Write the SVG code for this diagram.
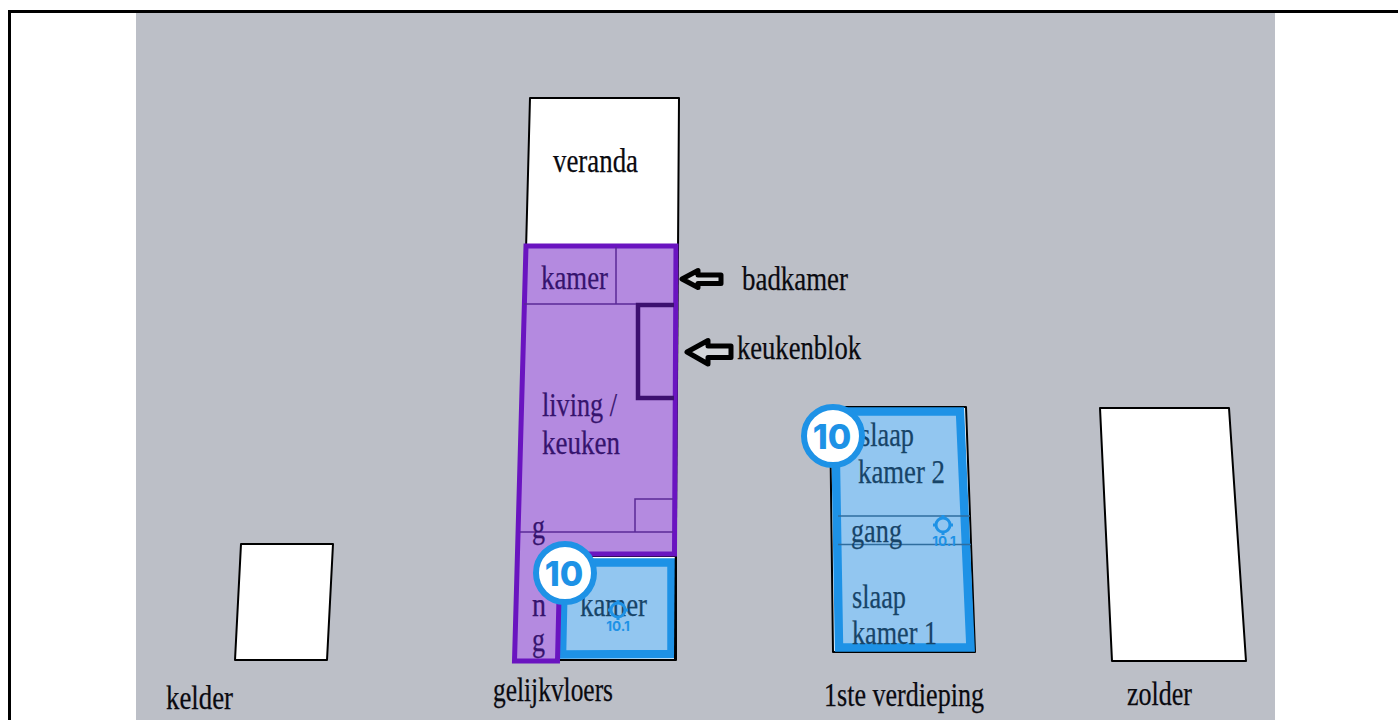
<svg xmlns="http://www.w3.org/2000/svg" width="1399" height="720" viewBox="0 0 1399 720">
<style>
.room{fill:#fff;stroke:#000;stroke-width:2;stroke-linejoin:round}
.t{font-family:"Liberation Serif",serif;font-size:33px;fill:#0a0a10;stroke:#0a0a10;stroke-width:.25}
.p{fill:#36146e;stroke:#36146e}
.b{fill:#174468;stroke:#174468}
.pur{fill:#b48ae0;stroke:#6a14c0;stroke-width:5;stroke-linejoin:miter}
.in{fill:none;stroke:#5a2a96;stroke-width:1.5}
.bl{fill:#92c6f0;stroke:#1e92e6;stroke-width:8.500;stroke-linejoin:miter}
.ln{fill:none;stroke:#2f6d9e;stroke-width:1.5}
.arrow{fill:#d4d6da;stroke:#000;stroke-width:5;stroke-linejoin:round}
.badge{fill:#fff;stroke:#1e92e6;stroke-width:6}
.bt{font-family:Inter,"Liberation Sans",sans-serif;font-weight:800;font-size:34px;fill:#1e92e6;text-anchor:middle}
.st{font-family:Inter,"Liberation Sans",sans-serif;font-weight:700;font-size:13.500px;fill:#1e92e6;text-anchor:middle}
.tg{fill:none;stroke:#1e92e6;stroke-width:3}
</style>
<rect x="0" y="0" width="1399" height="720" fill="#fff"/>
<rect x="136" y="12" width="1139" height="708" fill="#bcbfc7"/>
<path d="M9.500 720V11.500H1398" fill="none" stroke="#000" stroke-width="3"/>
<g id="kelder">
<path class="room" d="M241 544H333L327 660H235Z"/>
<text class="t" x="166" y="709" textLength="67" lengthAdjust="spacingAndGlyphs">kelder</text>
</g>
<g id="veranda">
<path class="room" d="M530 98H679L678 250H526Z"/>
<text class="t" x="553" y="172" textLength="85" lengthAdjust="spacingAndGlyphs">veranda</text>
</g>
<g id="kamer-beneden">
<path class="room" d="M558 556H676V660H558Z"/>
<path class="bl" d="M564 562.500H671.500V654L562 654.500Z"/>
<text class="t b" x="580" y="616" textLength="67" lengthAdjust="spacingAndGlyphs">kamer</text>
</g>
<g id="gelijkvloers">
<path d="M678 246L675 660" fill="none" stroke="#000" stroke-width="2"/>
<path class="pur" d="M526 246H676L674.500 554H560L557.500 661L514.500 661Z"/>
<path d="M674 305H638V398H674" fill="none" stroke="#3c1070" stroke-width="4.500"/>
<path class="in" d="M524 304H636M616 247V304M520 532H673M635 532V499H673"/>
<text class="t p" x="541" y="289" textLength="67" lengthAdjust="spacingAndGlyphs">kamer</text>
<text class="t p" x="542" y="416" textLength="75" lengthAdjust="spacingAndGlyphs">living /</text>
<text class="t p" x="542" y="454" textLength="78" lengthAdjust="spacingAndGlyphs">keuken</text>
<text class="t p" x="532" y="538" textLength="13" lengthAdjust="spacingAndGlyphs">g</text>
<text class="t p" x="532" y="616" textLength="14" lengthAdjust="spacingAndGlyphs">n</text>
<text class="t p" x="532" y="651" textLength="13" lengthAdjust="spacingAndGlyphs">g</text>
<text class="t" x="493" y="701" textLength="120" lengthAdjust="spacingAndGlyphs">gelijkvloers</text>
</g>
<g id="badkamer">
<text class="t" x="742" y="290" textLength="106" lengthAdjust="spacingAndGlyphs">badkamer</text>
</g>
<g id="keukenblok">
<text class="t" x="737" y="359" textLength="124" lengthAdjust="spacingAndGlyphs">keukenblok</text>
</g>
<g id="verdieping">
<path class="room" d="M830 407H966L975 652H833Z"/>
<path class="bl" d="M835 411.500H960L970.500 647.500H839Z"/>
<path class="ln" d="M838 516H970M838 544.500H971"/>
<text class="t b" x="860" y="446" textLength="54" lengthAdjust="spacingAndGlyphs">slaap</text>
<text class="t b" x="858" y="483" textLength="87" lengthAdjust="spacingAndGlyphs">kamer 2</text>
<text class="t b" x="851" y="542" textLength="51" lengthAdjust="spacingAndGlyphs">gang</text>
<text class="t b" x="852" y="608" textLength="54" lengthAdjust="spacingAndGlyphs">slaap</text>
<text class="t b" x="852" y="644" textLength="85" lengthAdjust="spacingAndGlyphs">kamer 1</text>
<text class="t" x="824" y="706" textLength="160" lengthAdjust="spacingAndGlyphs">1ste verdieping</text>
</g>
<g id="zolder">
<path class="room" d="M1100 408H1229L1246 661H1112Z"/>
<text class="t" x="1127" y="705" textLength="65" lengthAdjust="spacingAndGlyphs">zolder</text>
</g>
<g id="connectors">
<path class="arrow" d="M682 279L698 270.500V275H721V283.500H698V287.500Z"/>
<path class="arrow" d="M687 352L708 340.500V346H731V357.500H708V364Z"/>
</g>
<g id="marker-10-a">
<circle class="badge" cx="565" cy="573" r="29"/>
<text class="bt" x="564" y="586">10</text>
</g>
<g id="marker-10-b">
<circle class="badge" cx="833" cy="436" r="29"/>
<text class="bt" x="832" y="449">10</text>
</g>
<g id="marker-101-a">
<circle class="tg" cx="618" cy="610" r="7"/>
<path class="tg" d="M618 600V604M618 616V620M608 610H612M624 610H628"/>
<text class="st" x="618" y="631">10.1</text>
</g>
<g id="marker-101-b">
<circle class="tg" cx="943" cy="525" r="7"/>
<path class="tg" d="M943 515V519M943 531V535M933 525H937M949 525H953"/>
<text class="st" x="944" y="546">10.1</text>
</g>
</svg>
